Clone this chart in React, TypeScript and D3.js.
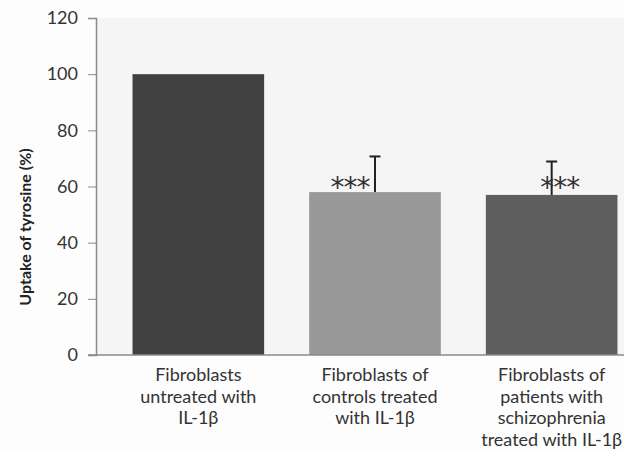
import React, { useEffect, useRef } from "react";
import * as d3 from "d3";

const categories = ["untreated", "controls", "patients"];
const labels = [
  ["Fibroblasts", "untreated with", "IL-1β"],
  ["Fibroblasts of", "controls treated", "with IL-1β"],
  ["Fibroblasts of", "patients with", "schizophrenia", "treated with IL-1β"],
];
const uptake = [100, 58, 57];
const errTop = [0, 70.7, 68.9];
const stars = ["", "***", "***"];
const starOffset = [0, -25, 8];
const barColors = ["#404040", "#989898", "#5e5e5e"];
const yTicks = [0, 20, 40, 60, 80, 100, 120];

const App = () => {
  const svgRef = useRef<SVGSVGElement>(null);

  useEffect(() => {
    const width = 624;
    const height = 450;
    const svg = d3.select(svgRef.current).attr("width", width).attr("height", height);
    svg.selectAll("*").remove();

    const font = "Lato, 'Open Sans', sans-serif";
    const x = d3
      .scaleBand()
      .domain(categories)
      .range([110, 640])
      .paddingInner(0.255)
      .paddingOuter(0.1275);
    const y = d3.scaleLinear().domain([0, 120]).range([355, 18]);

    svg.append("rect").attr("width", width).attr("height", height).attr("fill", "#fdfdfd");
    svg
      .append("rect")
      .attr("x", 96)
      .attr("y", 18)
      .attr("width", width - 96)
      .attr("height", 355 - 18)
      .attr("fill", "#f5f5f5");

    // bars
    svg
      .selectAll("rect.bar")
      .data(categories)
      .enter()
      .append("rect")
      .attr("class", "bar")
      .attr("x", (d) => x(d)!)
      .attr("y", (d, i) => y(uptake[i]))
      .attr("width", x.bandwidth())
      .attr("height", (d, i) => y(0) - y(uptake[i]))
      .attr("fill", (d, i) => barColors[i]);

    // error bars (upward only)
    categories.forEach((c, i) => {
      if (!errTop[i]) return;
      const cx = x(c)! + x.bandwidth() / 2;
      const g = svg.append("g").attr("stroke", "#222").attr("stroke-width", 2);
      g.append("line").attr("x1", cx).attr("x2", cx).attr("y1", y(uptake[i])).attr("y2", y(errTop[i]));
      g.append("line").attr("x1", cx - 5.5).attr("x2", cx + 5.5).attr("y1", y(errTop[i])).attr("y2", y(errTop[i]));
    });

    // significance stars
    categories.forEach((c, i) => {
      if (!stars[i]) return;
      svg
        .append("text")
        .attr("x", x(c)! + x.bandwidth() / 2 + starOffset[i])
        .attr("y", 197)
        .attr("text-anchor", "middle")
        .attr("font-family", "'DejaVu Sans', sans-serif")
        .attr("font-size", 28)
        .attr("fill", "#333")
        .attr("letter-spacing", -1)
        .text(stars[i]);
    });

    // y axis
    const yAxis = svg
      .append("g")
      .attr("transform", "translate(96,0)")
      .call(d3.axisLeft(y).tickValues(yTicks).tickSize(8).tickPadding(10));
    yAxis.select(".domain").attr("stroke", "#8a8a8a").attr("stroke-width", 1.5);
    yAxis.selectAll(".tick line").attr("stroke", "#8a8a8a");
    yAxis
      .selectAll(".tick text")
      .attr("font-family", font)
      .attr("font-size", 18)
      .attr("fill", "#333");

    // x baseline
    svg
      .append("line")
      .attr("x1", 88)
      .attr("x2", width)
      .attr("y1", y(0))
      .attr("y2", y(0))
      .attr("stroke", "#8a8a8a")
      .attr("stroke-width", 1.5);

    // category labels
    categories.forEach((c, i) => {
      const cx = x(c)! + x.bandwidth() / 2;
      const t = svg
        .append("text")
        .attr("text-anchor", "middle")
        .attr("font-family", font)
        .attr("font-size", 18)
        .attr("fill", "#333");
      labels[i].forEach((line, j) => {
        t.append("tspan").attr("x", cx).attr("y", 381 + j * 21.7).text(line);
      });
    });

    // y title
    svg
      .append("text")
      .attr("transform", "translate(31,227) rotate(-90)")
      .attr("text-anchor", "middle")
      .attr("font-family", font)
      .attr("font-weight", "bold")
      .attr("font-size", 16)
      .attr("fill", "#222")
      .text("Uptake of tyrosine (%)");
  }, []);

  return <svg ref={svgRef} style={{ position: "absolute", left: 0, top: 0 }}></svg>;
};

export default App;
